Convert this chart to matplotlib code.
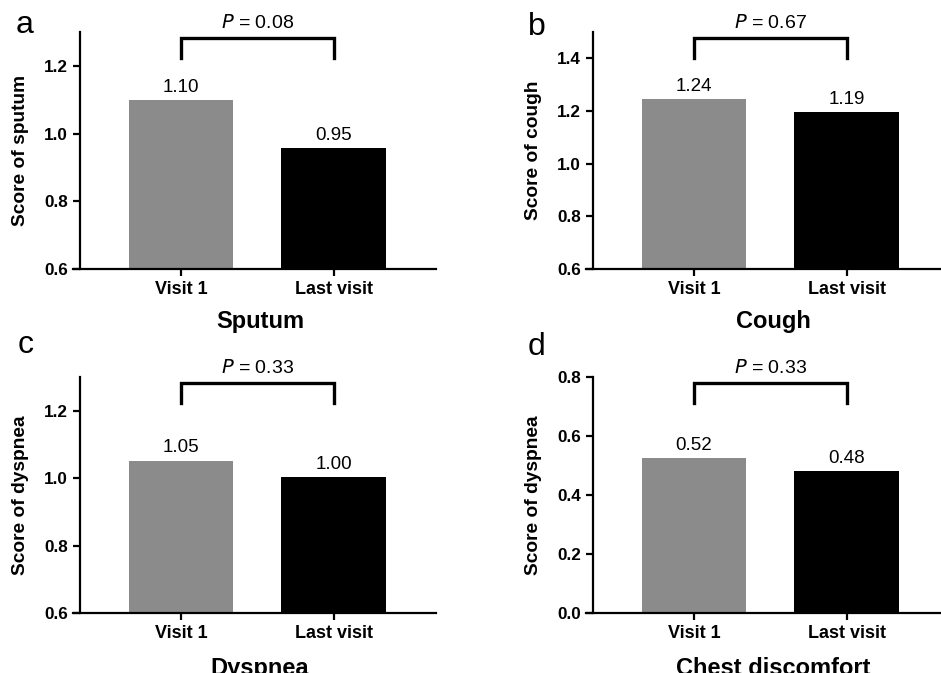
import matplotlib
matplotlib.use('Agg')
from matplotlib import pyplot as plt
from matplotlib import transforms

plt.rcParams['font.family'] = ['Liberation Sans', 'DejaVu Sans']

categories = ['Visit 1', 'Last visit']
letters = ['a', 'b', 'c', 'd']
names = ['Sputum', 'Cough', 'Dyspnea', 'Chest discomfort']
ylabels = ['Score of sputum', 'Score of cough', 'Score of dyspnea', 'Score of dyspnea']

sputum = [1.100, 0.957]
cough = [1.246, 1.197]
dyspnea = [1.052, 1.004]
chest = [0.526, 0.480]
values = [sputum, cough, dyspnea, chest]

value_labels = [['1.10', '0.95'], ['1.24', '1.19'], ['1.05', '1.00'], ['0.52', '0.48']]
p_values = ['0.08', '0.67', '0.33', '0.33']

ylims = [(0.6, 1.3), (0.6, 1.5), (0.6, 1.3), (0.0, 0.8)]
yticks = [[0.6, 0.8, 1.0, 1.2],
          [0.6, 0.8, 1.0, 1.2, 1.4],
          [0.6, 0.8, 1.0, 1.2],
          [0.0, 0.2, 0.4, 0.6, 0.8]]

W, H = 941, 673
fig = plt.figure(figsize=(W / 100, H / 100), dpi=100)

# axes boxes in pixels: (left, top, bottom), width is the same for all
boxes = [(73, 32, 269), (586, 32, 269), (73, 377, 613), (586, 377, 613)]
box_w = 363
letter_pos = [(16, 33), (528, 35), (18, 353), (528, 355)]

gray = '#8b8b8b'

for i in range(4):
    left, top, bottom = boxes[i]
    ax = fig.add_axes([left / W, 1 - bottom / H, box_w / W, (bottom - top) / H])
    x = [0, 1]
    ax.bar(x, values[i], width=0.686, color=[gray, 'black'], edgecolor='none', zorder=2)
    for xi, v, lab in zip(x, values[i], value_labels[i]):
        ax.annotate(lab, (xi, v), xytext=(0, 3), textcoords='offset points',
                    ha='center', va='bottom', fontsize=13.5)

    ax.set_xlim(-0.706, 1.667)
    ax.set_ylim(*ylims[i])
    ax.set_yticks(yticks[i])
    ax.set_yticklabels([f'{t:.1f}' for t in yticks[i]])
    ax.set_xticks(x)
    ax.set_xticklabels(categories)

    for s in ('top', 'right'):
        ax.spines[s].set_visible(False)
    ax.spines['left'].set_position(('data', -0.66))
    for s in ('left', 'bottom'):
        ax.spines[s].set_linewidth(1.6)

    ax.tick_params(axis='both', direction='out', length=5, width=1.6)
    ax.tick_params(axis='y', labelsize=12.3, pad=3.5)
    ax.tick_params(axis='x', labelsize=13, pad=4)
    for t in ax.get_xticklabels() + ax.get_yticklabels():
        t.set_fontweight('bold')

    ax.set_ylabel(ylabels[i], fontsize=13.8, fontweight='bold')
    ax.yaxis.set_label_coords(-0.122, 0.5)
    ax.set_xlabel(names[i], fontsize=17, fontweight='bold', va='top')
    ax.xaxis.set_label_coords(0.515, -0.173 if i < 2 else -0.186)

    # significance bracket
    trans = transforms.blended_transform_factory(ax.transData, ax.transAxes)
    ax.plot([0, 0, 1, 1], [0.89, 0.973, 0.973, 0.89], color='black', lw=2.4,
            transform=trans, clip_on=False, solid_joinstyle='miter')
    ax.text(0.5, 1.015, f'$\\it{{P}}$ = {p_values[i]}', transform=trans,
            ha='center', va='baseline', fontsize=14)

    lx, ly = letter_pos[i]
    fig.text(lx / W, 1 - ly / H, letters[i], fontsize=23, ha='left', va='baseline')

fig.savefig('out.png', dpi=100)
